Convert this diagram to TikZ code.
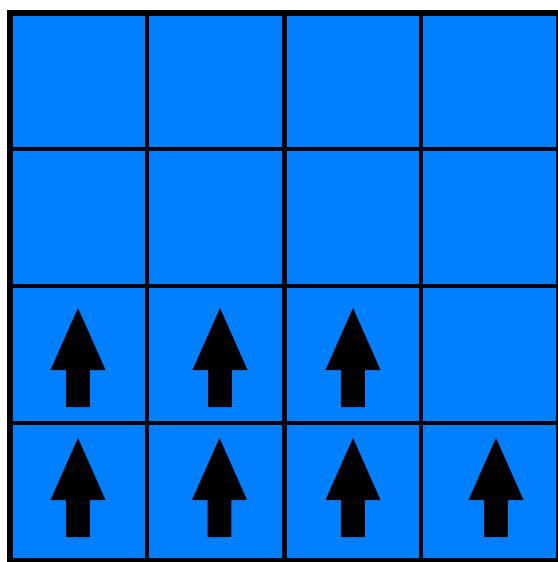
\documentclass[tikz,border=0pt]{standalone}
\usepackage{tikz}
\definecolor{cellblue}{RGB}{0,128,255}
\tikzset{
  gridline/.style={draw=black, line width=4.5pt},
  borderline/.style={draw=black, line width=6pt},
  uparrow/.pic={\fill[black] (0,0) -- (27.5,-62) -- (11.8,-62) -- (11.8,-99) -- (-11.8,-99) -- (-11.8,-62) -- (-27.5,-62) -- cycle;}
}
\begin{document}
\begin{tikzpicture}[x=1pt,y=1pt]
\useasboundingbox (0,0) rectangle (557,-562);
\fill[white] (0,0) rectangle (557,-562);
% board
\fill[cellblue] (10,-13) rectangle (558.5,-561);
\foreach \x in {147,284.5,421} \draw[gridline] (\x,-13) -- (\x,-561);
\foreach \y in {149,286,423} \draw[gridline] (10,-\y) -- (558.5,-\y);
\draw[borderline] (10,-13) rectangle (558.5,-561);
% arrows
\foreach \x in {78,220,353} \pic at (\x,-308) {uparrow};
\foreach \x in {78,219.5,353,496} \pic at (\x,-438) {uparrow};
\end{tikzpicture}
\end{document}
